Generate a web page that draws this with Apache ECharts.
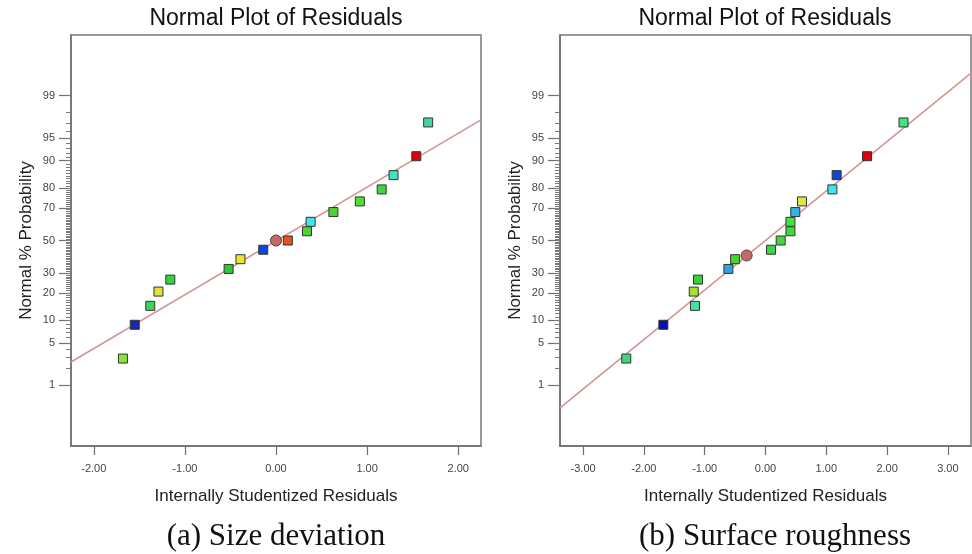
<!DOCTYPE html>
<html>
<head>
<meta charset="utf-8">
<script src="https://cdn.jsdelivr.net/npm/echarts@6/dist/echarts.min.js"></script>
<style>
  html, body { margin: 0; padding: 0; background: #fff; }
  #chart { width: 972px; height: 554px; }
</style>
</head>
<body>
<div id="chart"></div>
<script>
// Panel (a): size deviation residuals
const residA = [-1.68, -1.55, -1.38, -1.29, -1.16, -0.52, -0.39, -0.14, 0.13, 0.34, 0.38, 0.63, 0.92, 1.16, 1.29, 1.54, 1.67];
const pctA = [2.9, 8.8, 14.7, 20.6, 26.5, 32.4, 38.2, 44.1, 50, 55.9, 61.8, 67.6, 73.5, 79.4, 85.3, 91.2, 97.1];
const centerA = [[0.00, 50]];
const lineA = [[-2.25, 2.55], [2.25, 97.36]];
const xTicksA = [-2, -1, 0, 1, 2];

// Panel (b): surface roughness residuals
const residB = [-2.29, -1.68, -1.16, -1.18, -1.11, -0.61, -0.50, 0.09, 0.25, 0.41, 0.41, 0.49, 0.60, 1.10, 1.17, 1.67, 2.27];
const pctB = [2.9, 8.8, 14.7, 20.6, 26.5, 32.4, 38.2, 44.1, 50, 55.9, 61.8, 67.6, 73.5, 79.4, 85.3, 91.2, 97.1];
const centerB = [[-0.31, 40.5]];
const lineB = [[-3.38, 0.36], [3.38, 99.64]];
const xTicksB = [-3, -2, -1, 0, 1, 2, 3];

// Probability axis labels
const probLabels = [1, 5, 10, 20, 30, 50, 70, 80, 90, 95, 99];

// Point colours (run colour coding)
const colorsA = ['#8ee03a', '#1428b4', '#3fd262', '#e2e23e', '#36d044', '#34c236', '#f0e232', '#1642d2', '#e2531e',
                 '#52d236', '#44e2f0', '#4ed232', '#52e034', '#42d244', '#42e0c4', '#e2000e', '#44d4a0'];
const colorsB = ['#42d484', '#0a12b2', '#44e2a2', '#a6e232', '#34d234', '#34a2e2', '#44d434', '#44d244', '#44d444',
                 '#44d444', '#44e044', '#34b2e4', '#e2e244', '#44e2f2', '#1444d2', '#e2000e', '#44e284'];

// Inverse standard normal CDF (Acklam), used to place percentages on the normal-probability scale
function probit(p) {
  const a = [-3.969683028665376e+01, 2.209460984245205e+02, -2.759285104469687e+02, 1.383577518672690e+02, -3.066479806614716e+01, 2.506628277459239e+00];
  const b = [-5.447609879822406e+01, 1.615858368580409e+02, -1.556989798598866e+02, 6.680131188771972e+01, -1.328068155288572e+01];
  const c = [-7.784894002430293e-03, -3.223964580411365e-01, -2.400758277161838e+00, -2.549732539343734e+00, 4.374664141464968e+00, 2.938163982698783e+00];
  const d = [7.784695709041462e-03, 3.224671290700398e-01, 2.445134137142996e+00, 3.754408661907416e+00];
  const pl = 0.02425, ph = 1 - pl;
  let q, r;
  if (p < pl) {
    q = Math.sqrt(-2 * Math.log(p));
    return (((((c[0]*q+c[1])*q+c[2])*q+c[3])*q+c[4])*q+c[5]) / ((((d[0]*q+d[1])*q+d[2])*q+d[3])*q+1);
  }
  if (p <= ph) {
    q = p - 0.5; r = q * q;
    return (((((a[0]*r+a[1])*r+a[2])*r+a[3])*r+a[4])*r+a[5])*q / (((((b[0]*r+b[1])*r+b[2])*r+b[3])*r+b[4])*r+1);
  }
  q = Math.sqrt(-2 * Math.log(1 - p));
  return -(((((c[0]*q+c[1])*q+c[2])*q+c[3])*q+c[4])*q+c[5]) / ((((d[0]*q+d[1])*q+d[2])*q+d[3])*q+1);
}
const z = pct => probit(pct / 100);

const majorVals = probLabels.map(z);
const minorVals = [];
for (let k = 1; k <= 99; k++) minorVals.push(z(k));
const labelOf = {};
probLabels.forEach(p => { labelOf[z(p).toFixed(6)] = String(p); });

const sans = "'Liberation Sans', Arial, sans-serif";
const serif = "'Liberation Serif', 'Times New Roman', serif";
const axisGrey = '#6e6e6e';
const textGrey = '#444';

function xAxisFor(gridIndex, lim, ticks) {
  return {
    type: 'value', gridIndex, min: -lim, max: lim,
    name: 'Internally Studentized Residuals', nameLocation: 'middle', nameGap: 42,
    nameTextStyle: { fontFamily: sans, fontSize: 17, color: '#222' },
    axisLine: { show: true, onZero: false, lineStyle: { color: axisGrey, width: 1.5 } },
    axisTick: { show: true, customValues: ticks, length: 9, lineStyle: { color: axisGrey, width: 1.2 } },
    axisLabel: { customValues: ticks, formatter: v => v.toFixed(2), fontFamily: sans, fontSize: 11, color: textGrey, margin: 17 },
    splitLine: { show: false }
  };
}
function yMajorFor(gridIndex) {
  return {
    type: 'value', gridIndex, min: -3.3, max: 3.3, position: 'left',
    name: 'Normal % Probability', nameLocation: 'middle', nameGap: 36, nameRotate: 90,
    nameTextStyle: { fontFamily: sans, fontSize: 17, color: '#222' },
    axisLine: { show: true, onZero: false, lineStyle: { color: axisGrey, width: 1.5 } },
    axisTick: { show: true, customValues: majorVals, length: 12, lineStyle: { color: axisGrey, width: 1.2 } },
    axisLabel: { customValues: majorVals, formatter: v => labelOf[v.toFixed(6)] || '', fontFamily: sans, fontSize: 11, color: textGrey, margin: 16 },
    splitLine: { show: false }
  };
}
function yMinorFor(gridIndex) {
  return {
    type: 'value', gridIndex, min: -3.3, max: 3.3, position: 'left', offset: 0,
    axisLine: { show: false, onZero: false },
    axisTick: { show: true, customValues: minorVals, length: 5, lineStyle: { color: '#7a7a7a', width: 1 } },
    axisLabel: { show: false },
    splitLine: { show: false }
  };
}

function squares(resid, pct, colors, axisIdx) {
  return {
    type: 'scatter', xAxisIndex: axisIdx, yAxisIndex: axisIdx * 2, symbol: 'rect', symbolSize: 9, z: 5,
    data: resid.map((r, i) => ({ value: [r, z(pct[i])], itemStyle: { color: colors[i] } })),
    itemStyle: { borderColor: '#2a3a2a', borderWidth: 1, opacity: 1 }
  };
}
function circles(pts, axisIdx) {
  return {
    type: 'scatter', xAxisIndex: axisIdx, yAxisIndex: axisIdx * 2, symbol: 'circle', symbolSize: 11, z: 6,
    data: pts.map(p => [p[0], z(p[1])]),
    itemStyle: { color: '#c26a68', borderColor: '#5a3a3a', borderWidth: 1, opacity: 1 }
  };
}
function fitLine(pts, axisIdx) {
  return {
    type: 'line', xAxisIndex: axisIdx, yAxisIndex: axisIdx * 2, symbol: 'none', z: 3, silent: true,
    data: pts.map(p => [p[0], z(p[1])]),
    lineStyle: { color: '#d49494', width: 1.6 }
  };
}

const chart = echarts.init(document.getElementById('chart'), null, { renderer: 'canvas' });
chart.setOption({
  animation: false,
  backgroundColor: '#fff',
  grid: [
    { left: 71, right: 491, top: 35, bottom: 108, show: true, borderColor: '#7a7a7a', borderWidth: 1.5, backgroundColor: 'transparent' },
    { left: 560, right: 1, top: 35, bottom: 108, show: true, borderColor: '#7a7a7a', borderWidth: 1.5, backgroundColor: 'transparent' }
  ],
  xAxis: [xAxisFor(0, 2.25, xTicksA), xAxisFor(1, 3.38, xTicksB)],
  yAxis: [yMajorFor(0), yMinorFor(0), yMajorFor(1), yMinorFor(1)],
  series: [
    fitLine(lineA, 0), squares(residA, pctA, colorsA, 0), circles(centerA, 0),
    fitLine(lineB, 1), squares(residB, pctB, colorsB, 1), circles(centerB, 1)
  ],
  graphic: [
    { type: 'text', x: 276, y: 19, style: { text: 'Normal Plot of Residuals', font: '23px ' + sans, fill: '#111', textAlign: 'center', textVerticalAlign: 'middle' } },
    { type: 'text', x: 765, y: 19, style: { text: 'Normal Plot of Residuals', font: '23px ' + sans, fill: '#111', textAlign: 'center', textVerticalAlign: 'middle' } },
    { type: 'text', x: 276, y: 537, style: { text: '(a) Size deviation', font: '31px ' + serif, fill: '#111', textAlign: 'center', textVerticalAlign: 'middle' } },
    { type: 'text', x: 775, y: 537, style: { text: '(b) Surface roughness', font: '31px ' + serif, fill: '#111', textAlign: 'center', textVerticalAlign: 'middle' } }
  ]
});
</script>
</body>
</html>
